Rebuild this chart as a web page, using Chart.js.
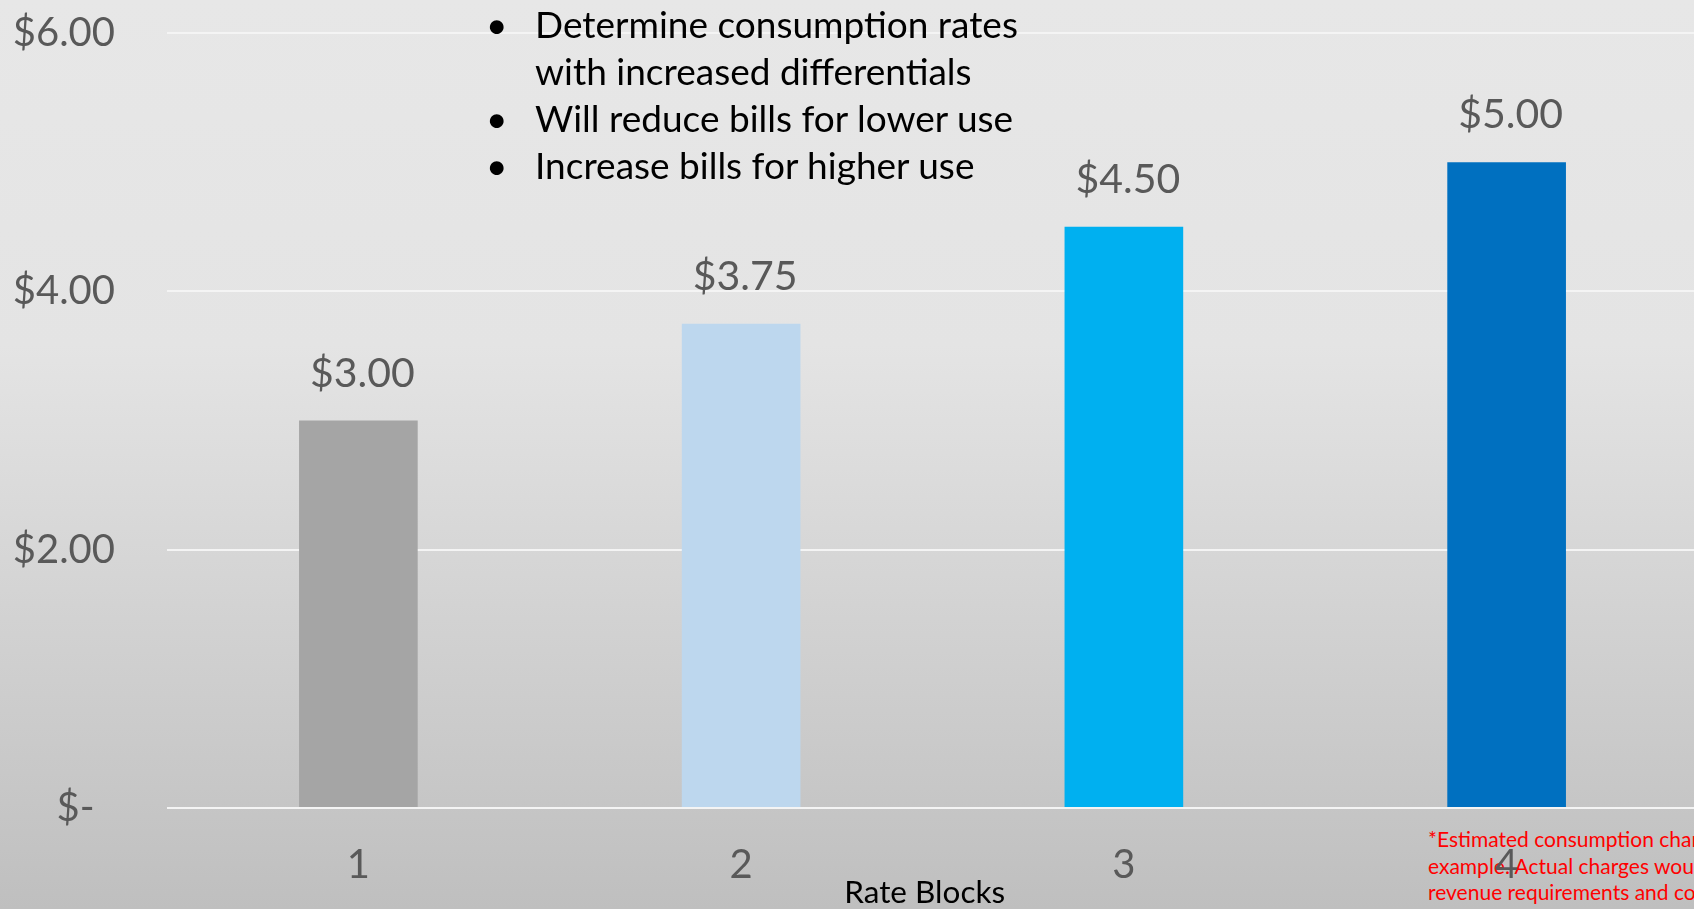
<!DOCTYPE html>
<html>
<head>
<meta charset="utf-8">
<script src="https://cdn.jsdelivr.net/npm/chart.js@4"></script>
<style>
html, body { margin: 0; padding: 0; width: 1694px; height: 909px; overflow: hidden; }
body {
    position: relative;
    font-family: Lato, "Open Sans", sans-serif;
    background: linear-gradient(to bottom, #e7e7e7 0%, #e4e4e4 38%, #bfbfbf 100%);
}
#note {
    position: absolute; left: 1428px; top: 826px; z-index: 0;
    color: #ff0000; font-size: 21px; line-height: 26.5px; white-space: nowrap;
}
#wrap { position: absolute; left: 0; top: 0; width: 1700px; height: 909px; z-index: 1; }
#bullets {
    position: absolute; left: 535px; top: 0px; z-index: 2;
    color: #000; font-size: 37px; line-height: 47px; white-space: nowrap;
}
#bullets .item { position: relative; }
#bullets .dot { position: absolute; left: -49px; }
</style>
</head>
<body>
<div id="note">
    <div>*Estimated consumption charges shown for</div>
    <div>example. Actual charges would depend on</div>
    <div>revenue requirements and cost of service.</div>
</div>
<div id="wrap"><canvas id="rateChart"></canvas></div>
<div id="bullets">
    <div class="item"><span class="dot">•</span>Determine consumption rates<br>with increased differentials</div>
    <div class="item"><span class="dot">•</span>Will reduce bills for lower use</div>
    <div class="item"><span class="dot">•</span>Increase bills for higher use</div>
</div>
<script>
// ---------------------------------------------------------------- data section
var block_labels = ['1', '2', '3', '4'];
var block_rates = [3.00, 3.75, 4.50, 5.00];
var block_colors = ['#a5a5a5', '#bdd7ee', '#00b0f0', '#0070c0'];
var y_ticks = [0, 2, 4, 6];

function money(v) {
    if (v == 0) return '$-  ';
    return '$' + v.toFixed(2);
}

// value labels on top of each bar
const barLabels = {
    id: 'barLabels',
    afterDatasetsDraw(chart) {
        const ctx = chart.ctx;
        const meta = chart.getDatasetMeta(0);
        ctx.save();
        ctx.font = '41px Lato';
        ctx.fillStyle = '#595959';
        ctx.textAlign = 'center';
        ctx.textBaseline = 'middle';
        meta.data.forEach(function (bar, i) {
            ctx.fillText(money(block_rates[i]), bar.x + 4, bar.y - 47);
        });
        ctx.restore();
    }
};

const ctx = document.getElementById('rateChart').getContext('2d');
const rateChart = new Chart(ctx, {
    type: 'bar',
    data: {
        labels: block_labels,
        datasets: [{
            label: 'Rate',
            data: block_rates,
            backgroundColor: block_colors,
            borderWidth: 0,
            barPercentage: 0.31,
            categoryPercentage: 1
        }]
    },
    plugins: [barLabels],
    options: {
        responsive: true,
        maintainAspectRatio: false,
        animation: false,
        layout: { padding: { left: 10, right: 2, top: 33, bottom: 0 } },
        plugins: {
            legend: { display: false },
            tooltip: { enabled: false }
        },
        scales: {
            x: {
                grid: { display: false },
                border: { display: false },
                ticks: {
                    color: '#595959',
                    font: { family: 'Lato', size: 40 },
                    padding: 25
                },
                title: {
                    display: true,
                    text: 'Rate Blocks\u2002',
                    color: '#000',
                    font: { family: 'Lato', size: 31.5, lineHeight: 1 },
                    padding: { top: 0, bottom: 0 }
                },
                afterFit: function (scale) {
                    scale.height = 101;
                    scale.paddingLeft = 0;
                    scale.paddingRight = 0;
                }
            },
            y: {
                min: 0,
                max: 6,
                afterBuildTicks: function (scale) {
                    scale.ticks = y_ticks.map(function (v) { return { value: v }; });
                },
                grid: { color: '#f4f4f4', lineWidth: 2, drawTicks: false },
                border: { display: false },
                ticks: {
                    color: '#595959',
                    font: { family: 'Lato', size: 40 },
                    padding: 52,
                    callback: function (v) { return money(v); }
                },
                afterFit: function (scale) {
                    scale.width = 157;
                    scale.paddingTop = 0;
                    scale.paddingBottom = 0;
                }
            }
        }
    }
});
</script>
</body>
</html>
